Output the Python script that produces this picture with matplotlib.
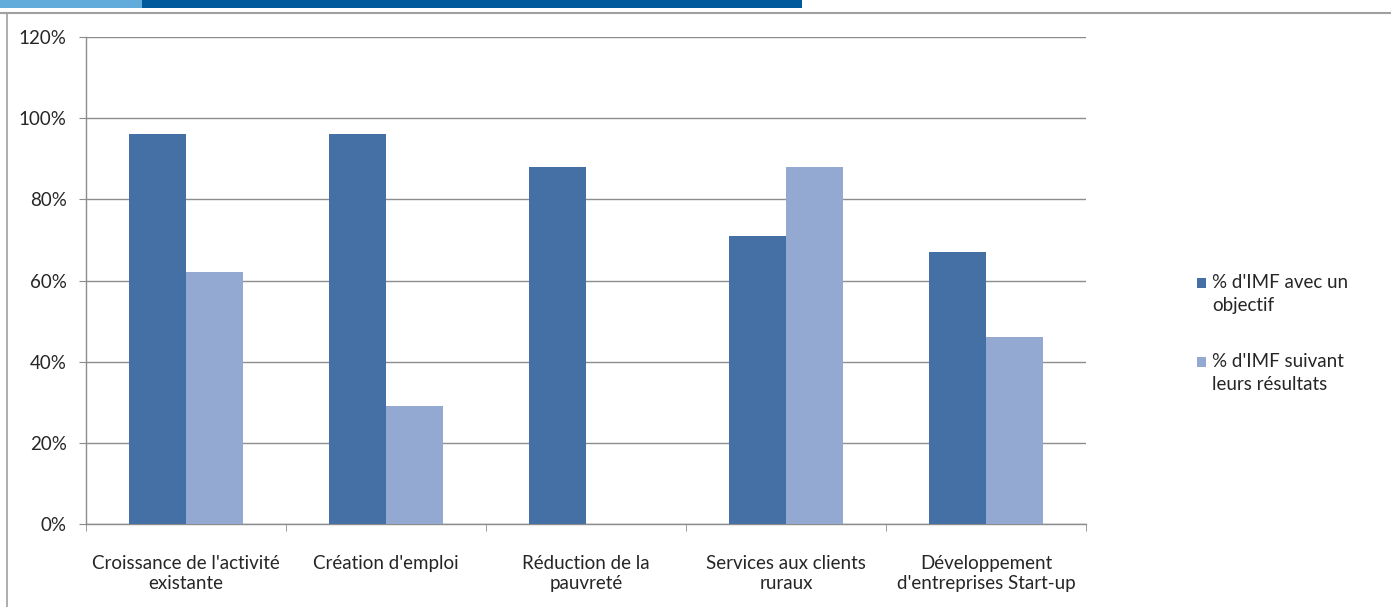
import matplotlib
matplotlib.use("Agg")
import matplotlib.pyplot as plt
from matplotlib.patches import Rectangle
from matplotlib.lines import Line2D
import numpy as np

categories = ["Croissance de l'activité\nexistante", "Création d'emploi",
              "Réduction de la\npauvreté", "Services aux clients\nruraux",
              "Développement\nd'entreprises Start-up"]
series_names = ["% d'IMF avec un\nobjectif", "% d'IMF suivant\nleurs résultats"]
objectif = [96, 96, 88, 71, 67]
resultats = [62, 29, 0, 88, 46]
yticks = [0, 20, 40, 60, 80, 100, 120]

W, H = 1391, 607
fig = plt.figure(figsize=(W / 100, H / 100), dpi=100)
plt.rcParams['font.family'] = ['Lato', 'DejaVu Sans']

dark = '#4470A5'
light = '#94A9D1'
grid = '#8C8C8C'
txt = '#262626'
fs = 13.5

# frame decorations
fig.add_artist(Rectangle((0, 1 - 8 / H), 142 / W, 8 / H, transform=fig.transFigure, color='#62ACDB', lw=0))
fig.add_artist(Rectangle((142 / W, 1 - 8 / H), (802 - 142) / W, 8 / H, transform=fig.transFigure, color='#005A9C', lw=0))
fig.add_artist(Line2D([0, 1], [1 - 13 / H, 1 - 13 / H], transform=fig.transFigure, color='#A0A0A0', lw=1.5))
fig.add_artist(Line2D([7 / W, 7 / W], [0, 1 - 13 / H], transform=fig.transFigure, color='#A0A0A0', lw=1.2))

left, right, top, bottom = 86, 1086, 37, 524
ax = fig.add_axes([left / W, 1 - bottom / H, (right - left) / W, (bottom - top) / H])
x = np.arange(len(categories))
bw = 0.285
ax.bar(x - bw / 2, objectif, bw, color=dark, label=series_names[0], zorder=3)
ax.bar(x + bw / 2, resultats, bw, color=light, label=series_names[1], zorder=3)

ax.set_xlim(-0.5, len(categories) - 0.5)
ax.set_ylim(0, 120)
ax.set_yticks(yticks)
ax.set_yticklabels([f"{v}%" for v in yticks], fontsize=fs, color=txt)
ax.yaxis.grid(True, color=grid, lw=1, zorder=0)
ax.set_xticks(x)
ax.set_xticklabels(categories, fontsize=fs, color=txt, linespacing=1.25)
ax.set_xticks(np.arange(-0.5, len(categories)), minor=True)
ax.tick_params(axis='x', which='major', length=0, pad=22)
ax.tick_params(axis='x', which='minor', length=5, color=grid, direction='out')
ax.tick_params(axis='y', length=5, color=grid, direction='out', pad=9)
for s in ['top', 'right']:
    ax.spines[s].set_visible(False)
for s in ['left', 'bottom']:
    ax.spines[s].set_color(grid)
    ax.spines[s].set_linewidth(1)

# legend drawn manually so the swatch aligns with the first text line
leg_y = [283, 362]
for name, col, yy in zip(series_names, [dark, light], leg_y):
    fig.add_artist(Rectangle((1197 / W, 1 - (yy + 5) / H), 9 / W, 10 / H,
                             transform=fig.transFigure, color=col, lw=0))
    fig.text(1212 / W, 1 - (yy - 9) / H, name, fontsize=fs, color=txt,
             ha='left', va='top', linespacing=1.4)

fig.savefig("out.png", dpi=100)
